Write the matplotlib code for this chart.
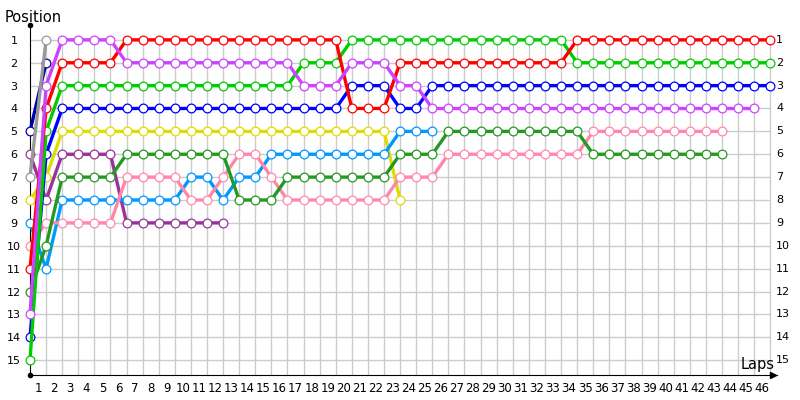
import matplotlib
matplotlib.use("Agg")
import matplotlib.pyplot as plt
import matplotlib.transforms as mtransforms
import numpy as np

# position of each driver on every lap (index 0 = starting grid)
red = [11, 4, 2, 2, 2, 2, 1, 1, 1, 1, 1, 1, 1, 1, 1, 1, 1, 1, 1, 1,
       4, 4, 4, 2, 2, 2, 2, 2, 2, 2, 2, 2, 2, 2,
       1, 1, 1, 1, 1, 1, 1, 1, 1, 1, 1, 1, 1]
violet = [13, 3, 1, 1, 1, 1, 2, 2, 2, 2, 2, 2, 2, 2, 2, 2, 2, 3, 3, 3,
          2, 2, 2, 3, 3, 4, 4, 4, 4, 4, 4, 4, 4, 4, 4, 4, 4, 4, 4, 4,
          4, 4, 4, 4, 4, 4]
green = [15, 5, 3, 3, 3, 3, 3, 3, 3, 3, 3, 3, 3, 3, 3, 3, 3, 2, 2, 2,
         1, 1, 1, 1, 1, 1, 1, 1, 1, 1, 1, 1, 1, 1,
         2, 2, 2, 2, 2, 2, 2, 2, 2, 2, 2, 2, 2]
blue = [14, 6, 4, 4, 4, 4, 4, 4, 4, 4, 4, 4, 4, 4, 4, 4, 4, 4, 4, 4,
        3, 3, 3, 4, 4, 3, 3, 3, 3, 3, 3, 3, 3, 3, 3, 3, 3, 3, 3, 3,
        3, 3, 3, 3, 3, 3, 3]
navy = [5, 2]
grey = [7, 1]
yellow = [8, 7, 5, 5, 5, 5, 5, 5, 5, 5, 5, 5, 5, 5, 5, 5, 5, 5, 5, 5,
          5, 5, 5, 8]
dark_green = [12, 10, 7, 7, 7, 7, 6, 6, 6, 6, 6, 6, 6, 8, 8, 8, 7, 7, 7, 7,
              7, 7, 7, 6, 6, 6, 5, 5, 5, 5, 5, 5, 5, 5, 5,
              6, 6, 6, 6, 6, 6, 6, 6, 6]
purple = [6, 8, 6, 6, 6, 6, 9, 9, 9, 9, 9, 9, 9]
pink = [10, 9, 9, 9, 9, 9, 7, 7, 7, 7, 8, 8, 7, 6, 6, 7, 8, 8, 8, 8,
        8, 8, 8, 7, 7, 7, 6, 6, 6, 6, 6, 6, 6, 6, 6,
        5, 5, 5, 5, 5, 5, 5, 5, 5]
light_blue = [9, 11, 8, 8, 8, 8, 8, 8, 8, 8, 7, 7, 8, 7, 7, 6, 6, 6, 6, 6,
              6, 6, 6, 5, 5, 5]

series = [
    (purple, "#993399"),
    (yellow, "#dddd00"),
    (light_blue, "#0099ff"),
    (pink, "#ff88aa"),
    (dark_green, "#229922"),
    (blue, "#0000ff"),
    (green, "#00cc00"),
    (red, "#ff0000"),
    (violet, "#cc44ff"),
    (navy, "#0000aa"),
    (grey, "#999999"),
]

n_laps = 46
n_pos = 15

fig = plt.figure(figsize=(8, 4), dpi=100)
ax = fig.add_axes([30 / 800, 25 / 400, 747 / 800, 350 / 400])
ax.set_xlim(0, 46.42)
ax.set_ylim(15.65, 0.35)

# grid
laps = np.arange(1, n_laps + 1)
positions = np.arange(1, n_pos + 1)
ax.vlines(laps, 1, 15.65, color="#cccccc", lw=1, zorder=0)
ax.hlines(positions, 0, n_laps, color="#cccccc", lw=1, zorder=0)

for values, color in series:
    x = np.arange(len(values))
    ax.plot(x, values, color=color, lw=2.4, marker="o", ms=6.3,
            mfc="white", mec=color, mew=0.9, zorder=3, clip_on=False)

# axes with arrow / dot ends
for s in ["top", "right"]:
    ax.spines[s].set_visible(False)
ax.plot(0, 1, "ok", ms=3, transform=ax.transAxes, clip_on=False)
ax.plot(0, 0, "ok", ms=3, transform=ax.transAxes, clip_on=False)
ax.plot(0.995, 0, ">k", ms=5, transform=ax.transAxes, clip_on=False)

# y labels: left via ticks, right via text
ax.set_yticks(positions)
ax.set_yticklabels([str(p) for p in positions])
ax.tick_params(axis="y", length=0, pad=11.5, labelsize=8)
for lab in ax.get_yticklabels():
    lab.set_horizontalalignment("center")
trans = mtransforms.blended_transform_factory(ax.transAxes, ax.transData)
for p in positions:
    ax.text(0.999, p, str(p), transform=trans, fontsize=8,
            ha="left", va="center")

# x labels sit half a lap left of each gridline
ax.set_xticks(laps)
ax.set_xticklabels([])
ax.set_xticks(laps - 0.5, minor=True)
ax.set_xticklabels([str(l) for l in laps], minor=True)
ax.tick_params(axis="x", which="both", length=0, pad=5, labelsize=8.5)

fig.text(5 / 800, 1 - 22 / 400, "Position", fontsize=10.5, va="baseline")
fig.text(775 / 800, 1 - 369 / 400, "Laps", fontsize=10.5, va="baseline", ha="right")

plt.savefig("out.png")
